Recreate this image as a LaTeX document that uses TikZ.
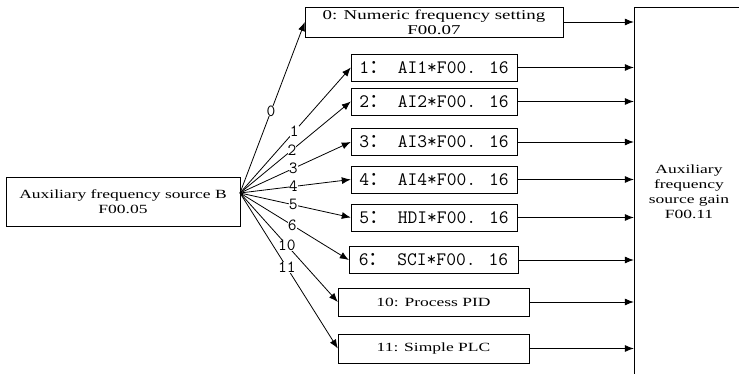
\documentclass[tikz,border=0pt]{standalone}
\usepackage{fontspec}
\setmainfont{Liberation Serif}[FakeStretch=1.4]
\newfontfamily\cjk{Noto Sans CJK SC}
\usetikzlibrary{arrows.meta}

\begin{document}
\begin{tikzpicture}[x=1pt, y=-1pt, >={Latex[length=9pt,width=7pt]},
    every node/.style={draw, inner sep=0pt, align=center},
    txt/.style={font=\fontsize{12.5}{15}\selectfont},
    code/.style={font=\ttfamily\fontsize{19}{22}\selectfont, minimum width=166pt, minimum height=27pt},
    sel/.style={draw=none, fill=white, inner sep=0pt, pos=0.48, font=\ttfamily\fontsize{17}{17}\selectfont}]
            \useasboundingbox (0,0) rectangle (739,374);
            \clip (0,0) rectangle (739,374);
            % Nodos
            \node[txt, minimum width=234pt, minimum height=49pt] (B) at (123,201.5) {Auxiliary frequency source B\\F00.05};
            \node[txt, font=\fontsize{13.5}{15}\selectfont, minimum width=258pt, minimum height=30pt] (n0) at (434,22) {0: Numeric frequency setting\\F00.07};
            \node[code] (n1) at (434,67.5) {1{\cjk ：} AI1*F00. 16};
            \node[code] (n2) at (434,101.5) {2{\cjk ：} AI2*F00. 16};
            \node[code] (n3) at (434,142) {3{\cjk ：} AI3*F00. 16};
            \node[code] (n4) at (434,179.5) {4{\cjk ：} AI4*F00. 16};
            \node[code] (n5) at (434,217.5) {5{\cjk ：} HDI*F00. 16};
            \node[code, minimum width=169pt] (n6) at (433.5,260) {6{\cjk ：} SCI*F00. 16};
            \node[txt, minimum width=191pt, minimum height=28pt] (n10) at (433.5,302) {10: Process PID};
            \node[txt, minimum width=191pt, minimum height=29pt] (n11) at (433.5,348.5) {11: Simple PLC};
            \node[txt, minimum width=110pt, minimum height=370pt] (gain) at (689,192) {Auxiliary\\frequency\\source gain\\F00.11};
            \coordinate (fan) at (240,193);

            % Flechas de seleccion
            \draw[->, thick] (fan) -- (n0.west) node[sel] {0};
            \draw[->, thick] (fan) -- (n1.west) node[sel, pos=0.49] {1};
            \draw[->, thick] (fan) -- (n2.west) node[sel, pos=0.47] {2};
            \draw[->, thick] (fan) -- (n3.west) node[sel] {3};
            \draw[->, thick] (fan) -- (n4.west) node[sel] {4};
            \draw[->, thick] (fan) -- (n5.west) node[sel] {5};
            \draw[->, thick] (fan) -- (n6.west) node[sel] {6};
            \draw[->, thick] (fan) -- (n10.west) node[sel] {10};
            \draw[->, thick] (fan) -- (n11.west) node[sel] {11};

            % Flechas a la ganancia
            \draw[->, thick] (n0.east) -- (n0.east -| gain.west);
            \draw[->, thick] (n1.east) -- (n1.east -| gain.west);
            \draw[->, thick] (n2.east) -- (n2.east -| gain.west);
            \draw[->, thick] (n3.east) -- (n3.east -| gain.west);
            \draw[->, thick] (n4.east) -- (n4.east -| gain.west);
            \draw[->, thick] (n5.east) -- (n5.east -| gain.west);
            \draw[->, thick] (n6.east) -- (n6.east -| gain.west);
            \draw[->, thick] (n10.east) -- (n10.east -| gain.west);
            \draw[->, thick] (n11.east) -- (n11.east -| gain.west);
          \end{tikzpicture}
\end{document}
